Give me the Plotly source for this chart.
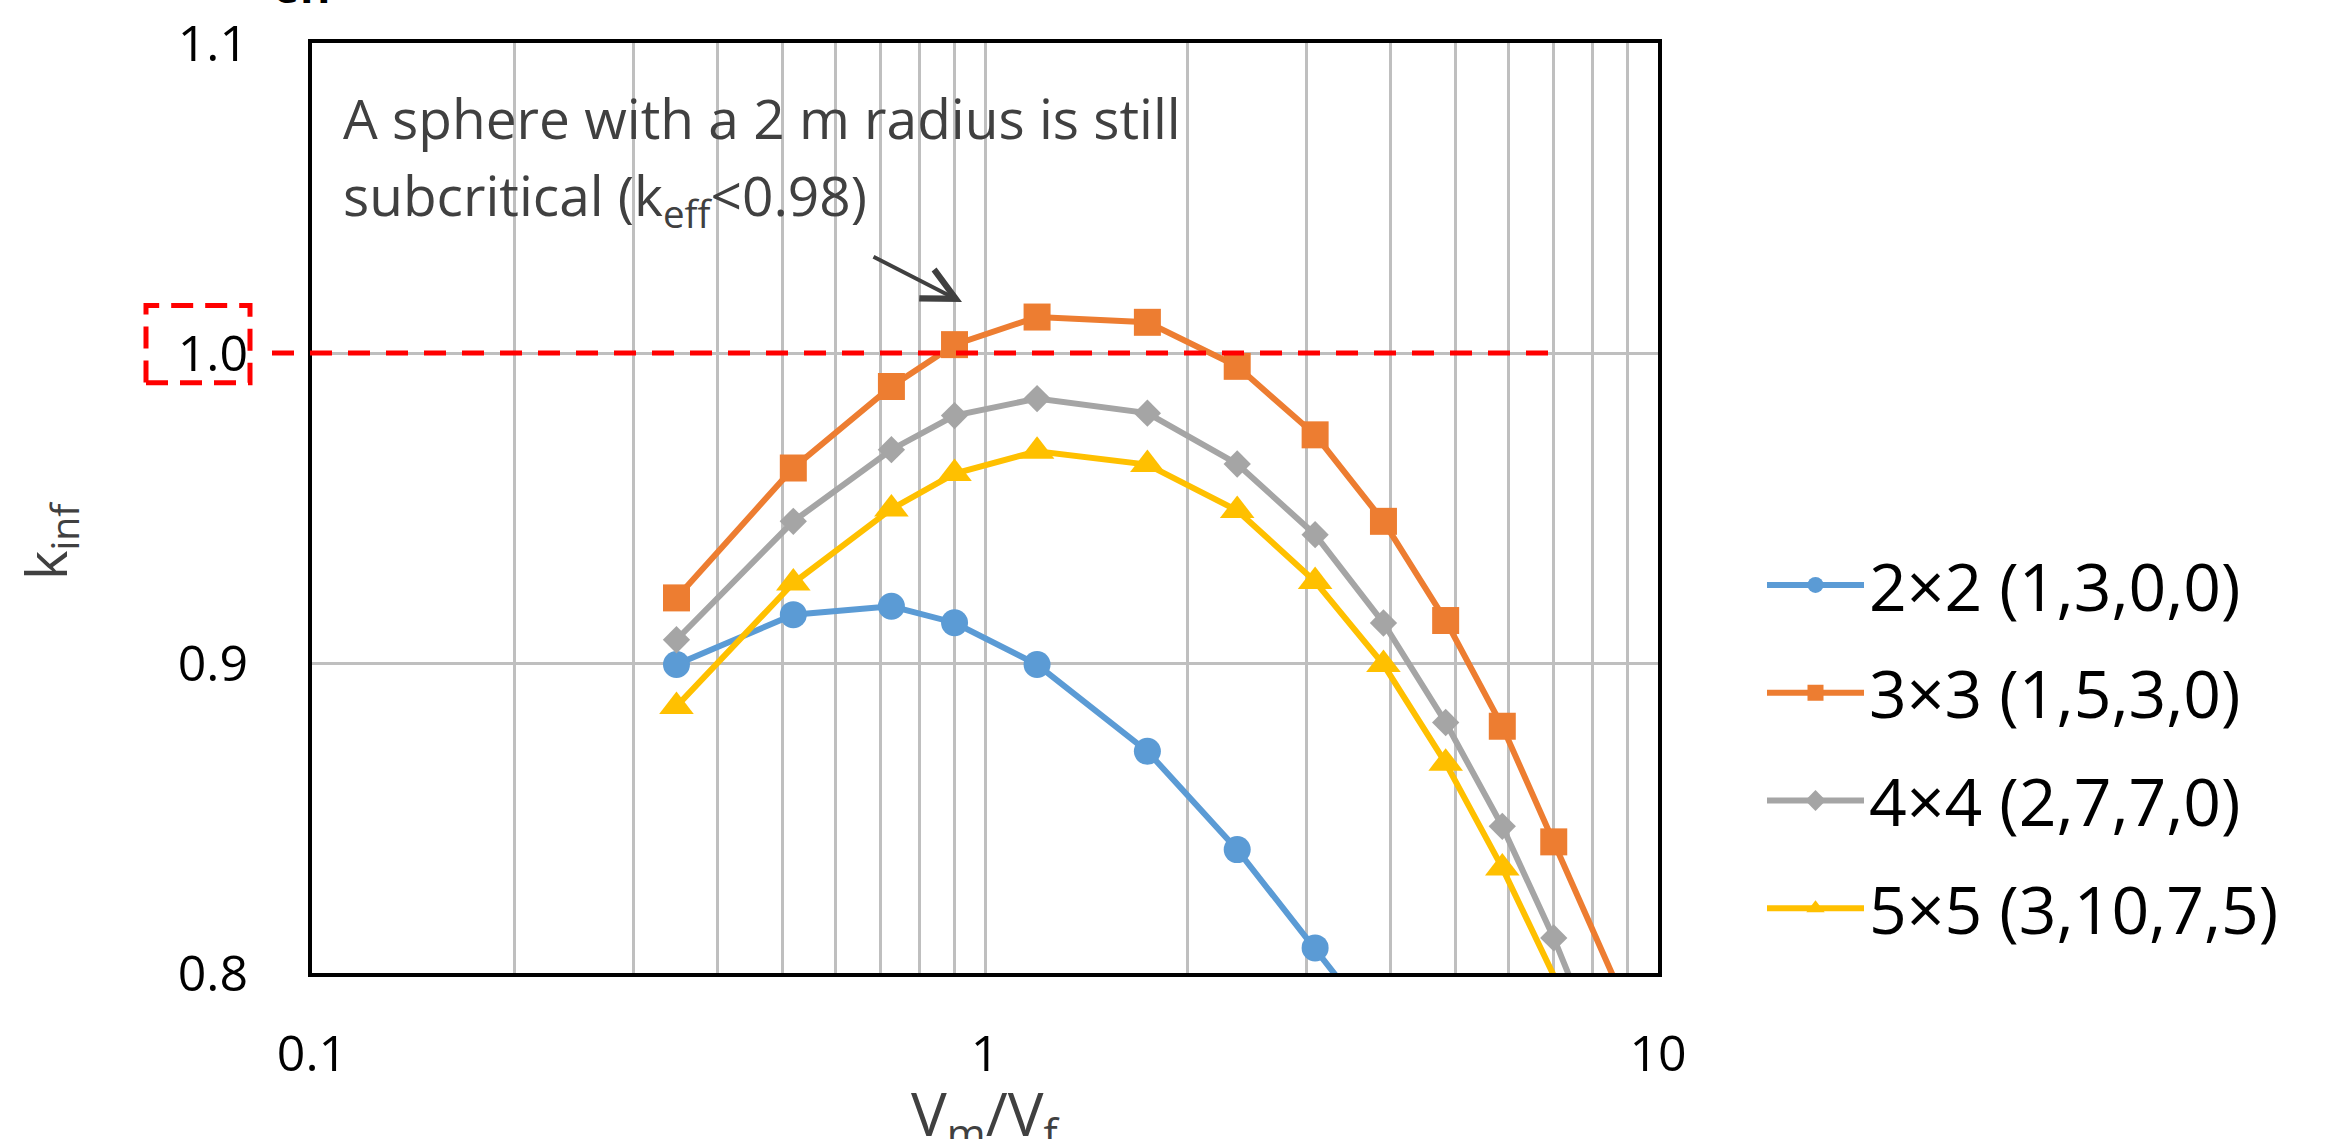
import plotly.graph_objects as go
import math

# ---------------- data ----------------
vm_vf = [0.348, 0.519, 0.726, 0.901, 1.195, 1.743, 2.370, 3.094, 3.909, 4.836, 5.870, 7.000, 8.600]

series_names = ["2×2 (1,3,0,0)", "3×3 (1,5,3,0)", "4×4 (2,7,7,0)", "5×5 (3,10,7,5)"]
k_2x2 = [0.8995, 0.9156, 0.9183, 0.9130, 0.8995, 0.8715, 0.8398, 0.8081, 0.7796]
k_3x3 = [0.9210, 0.9629, 0.9892, 1.0027, 1.0116, 1.0099, 0.9957, 0.9736, 0.9457, 0.9137, 0.8796, 0.8423, 0.7984]
k_4x4 = [0.9075, 0.9457, 0.9688, 0.9798, 0.9853, 0.9806, 0.9642, 0.9414, 0.9129, 0.8808, 0.8473, 0.8113, 0.7637]
k_5x5 = [0.8860, 0.9258, 0.9497, 0.9611, 0.9683, 0.9640, 0.9492, 0.9263, 0.8995, 0.8677, 0.8339, 0.7992]

x_ticks = [0.1, 1, 10]
x_minor = [0.2, 0.3, 0.4, 0.5, 0.6, 0.7, 0.8, 0.9, 2, 3, 4, 5, 6, 7, 8, 9]
y_ticks = [0.8, 0.9, 1.0, 1.1]
critical_k = 1.0
critical_line_end = 7.0
note_lines = ["A sphere with a 2 m radius is still", "subcritical (k<sub>eff</sub><0.98)"]
x_title = "V<sub>m</sub>/V<sub>f</sub>"
y_title = "k<sub>inf</sub>"

# ---------------- style ----------------
FONT = "Open Sans"
colors = ["#5B9BD5", "#ED7D31", "#A5A5A5", "#FFC000"]
symbols = ["circle", "square", "diamond", "triangle-up"]
msizes = [27, 27, 21, 30]
Y_MIN, Y_MAX = 0.8, 1.1

fig = go.Figure()
for name, ys, c, s, ms in zip(series_names, [k_2x2, k_3x3, k_4x4, k_5x5], colors, symbols, msizes):
    xs = vm_vf[:len(ys)]
    sizes = [ms if y >= Y_MIN else 0 for y in ys]
    fig.add_trace(go.Scatter(
        x=xs, y=ys, name=name, mode="lines+markers", legendgroup=name,
        line=dict(color=c, width=6),
        marker=dict(symbol=s, size=sizes, color=c, opacity=1, line=dict(width=0)),
    ))

L, R, T, B = 312, 686, 43, 166
W, H = 2344, 1139
pw, ph = W - L - R, H - T - B

def xpaper(v):
    return (math.log10(v) + 1) / 2.0

def ypaper(py):
    return (H - B - py) / ph

fig.update_layout(
    width=W, height=H,
    margin=dict(l=L, r=R, t=T, b=B, autoexpand=False),
    paper_bgcolor="white", plot_bgcolor="white",
    font=dict(family=FONT, color="black"),
    showlegend=True,
    legend=dict(
        x=(1762 - L) / pw, xanchor="left", y=0.243, yanchor="middle",
        font=dict(size=66, color="black", family=FONT),
        itemwidth=97, tracegroupgap=19, bgcolor="rgba(0,0,0,0)",
    ),
    xaxis=dict(
        type="log", range=[-1, 1], automargin=False,
        tickmode="array", tickvals=x_ticks, ticktext=[str(v) for v in x_ticks],
        showgrid=True, gridcolor="#BFBFBF", gridwidth=3,
        minor=dict(tickmode="array", tickvals=x_minor, showgrid=True,
                   gridcolor="#BFBFBF", gridwidth=3, ticks=""),
        showline=True, linecolor="black", linewidth=4, mirror=True,
        ticks="", tickfont=dict(size=50, color="black", family=FONT),
        ticklabelstandoff=34,
        zeroline=False,
    ),
    yaxis=dict(
        range=[Y_MIN, Y_MAX], automargin=False, tickmode="array", tickvals=y_ticks,
        ticktext=[f"{v:.1f}" for v in y_ticks],
        showgrid=True, gridcolor="#BFBFBF", gridwidth=3,
        showline=True, linecolor="black", linewidth=4, mirror=True,
        ticks="", tickfont=dict(size=50, color="black", family=FONT),
        ticklabelstandoff=50,
        zeroline=False,
    ),
)

# axis titles placed like the reference
fig.add_annotation(xref="paper", yref="paper", x=0.5, y=ypaper(1070),
                   xanchor="center", yanchor="top", showarrow=False,
                   text=x_title, font=dict(size=60, color="#404040", family=FONT))
fig.add_annotation(xref="paper", yref="paper", x=(48 - L) / pw, y=ypaper(541),
                   xanchor="center", yanchor="middle", textangle=-90, showarrow=False,
                   text=y_title, font=dict(size=56, color="#404040", family=FONT))

# white text box covering gridlines
fig.add_shape(type="rect", xref="paper", yref="paper",
              x0=(330 - L) / pw, x1=(1340 - L) / pw,
              y0=ypaper(262), y1=ypaper(72),
              fillcolor="white", line=dict(width=0), layer="between")

# red dashed critical line (extends left of the axis)
fig.add_shape(type="line", xref="paper", yref="y",
              x0=(272 - L) / pw, x1=xpaper(critical_line_end),
              y0=critical_k, y1=critical_k,
              line=dict(color="#FF0000", width=5, dash="22px,16px"), layer="above")

# red dashed box around the 1.0 tick label
fig.add_shape(type="rect", xref="paper", yref="y",
              x0=(146 - L) / pw, x1=(250 - L) / pw,
              y0=0.9904, y1=1.0153,
              line=dict(color="#FF0000", width=5, dash="22px,12px"),
              fillcolor="rgba(0,0,0,0)", layer="above")

# note text (two lines, spaced like the reference)
for i, line in enumerate(note_lines):
    fig.add_annotation(xref="paper", yref="paper", x=(341 - L) / pw, y=ypaper(78 + i * 77),
                       xanchor="left", yanchor="top", align="left", showarrow=False,
                       text=line, font=dict(size=55, color="#404040", family=FONT))

# arrow
fig.add_annotation(xref="paper", yref="paper", x=(962 - L) / pw, y=ypaper(302),
                   ax=-90, ay=-46, axref="pixel", ayref="pixel", text="",
                   showarrow=True, arrowhead=5, arrowsize=1.6, arrowwidth=4,
                   arrowcolor="#404040", standoff=0)

# cut-off fragment of a title at the very top
fig.add_annotation(xref="paper", yref="paper", x=(304 - L) / pw, y=ypaper(18),
                   xanchor="center", yanchor="bottom", showarrow=False,
                   text="<b>eff</b>", font=dict(size=44, color="black", family=FONT))

fig.write_html("out.html")
